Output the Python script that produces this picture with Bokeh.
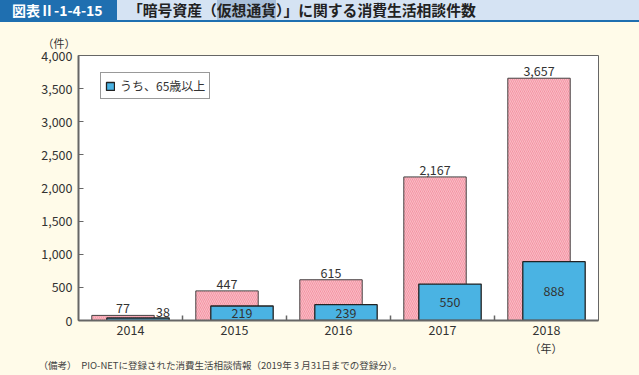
from bokeh.plotting import figure
from bokeh.models import (ColumnDataSource, Range1d, FixedTicker, NumeralTickFormatter,
                          Legend, LegendItem, Title, Div)
from bokeh.layouts import column
from bokeh.transform import dodge
from bokeh.embed import file_html
from bokeh.resources import INLINE
from bokeh.core.properties import value

# ---- data ----
years = ["2014", "2015", "2016", "2017", "2018"]
total = [77, 447, 615, 2167, 3657]
elderly = [38, 219, 239, 550, 888]
y_ticks = [0, 500, 1000, 1500, 2000, 2500, 3000, 3500, 4000]
series_name = "うち、65歳以上"
x_unit = "（年）"
y_unit = "（件）"
fig_code = "図表Ⅱ-1-4-15"
title_pre = "「暗号資産（"
title_mid = "仮想通貨"
title_post = "）」に関する消費生活相談件数"
note = "（備考）　PIO-NETに登録された消費生活相談情報（2019年 3 月31日までの登録分）。"

FONT = "Noto Sans CJK JP"
CREAM = "#fffbe9"
TXT = "#333333"

xs = [i + 0.5 for i in range(len(years))]
bounds = [i for i in range(1, len(years))]

src = ColumnDataSource(dict(
    x=xs, total=total, elderly=elderly,
    total_lbl=[f"{v:,}" for v in total],
))
inside = [i for i, v in enumerate(elderly) if v >= 150]
above = [i for i, v in enumerate(elderly) if v < 150]
src_in = ColumnDataSource(dict(
    x=[xs[i] for i in inside],
    y=[elderly[i] / 2 for i in inside],
    lbl=[f"{elderly[i]:,}" for i in inside]))
src_ab = ColumnDataSource(dict(
    x=[xs[i] for i in above],
    y=[elderly[i] for i in above],
    lbl=[f"{elderly[i]:,}" for i in above]))

p = figure(width=639, height=351, x_range=Range1d(0, len(years)), y_range=Range1d(0, 4000),
           output_backend="svg", toolbar_location=None,
           min_border_left=78, min_border_right=41, min_border_top=31, min_border_bottom=55,
           background_fill_color="white", border_fill_color=CREAM)
p.outline_line_color = "#666666"
p.outline_line_width = 1
p.xgrid.visible = False
p.ygrid.visible = False

pink = p.vbar(x=dodge("x", -0.072), top="total", width=0.6, source=src,
              fill_color="#f3889a", hatch_pattern="\\", hatch_color="#f9bcc5",
              hatch_scale=4, hatch_weight=1.2,
              line_color="#444444", line_width=1)
blue = p.vbar(x=dodge("x", 0.072), top="elderly", width=0.6, source=src,
              fill_color="#4ab3e3", line_color="#222222", line_width=1.3)

p.text(x=dodge("x", -0.072), y="total", text="total_lbl", source=src,
       text_align="center", text_baseline="bottom", y_offset=-2,
       text_font=value(FONT), text_font_size="12.5px", text_color=TXT)
p.text(x=dodge("x", 0.072), y="y", text="lbl", source=src_in,
       text_align="center", text_baseline="middle",
       text_font=value(FONT), text_font_size="12.5px", text_color=TXT)
p.text(x=dodge("x", 0.072), y="y", text="lbl", source=src_ab,
       text_align="center", text_baseline="bottom", x_offset=25, y_offset=-1,
       text_font=value(FONT), text_font_size="12.5px", text_color=TXT)

# axes
xa = p.xaxis[0]
xa.ticker = FixedTicker(ticks=xs, minor_ticks=bounds)
xa.major_label_overrides = {x: y for x, y in zip(xs, years)}
xa.major_tick_in = 0
xa.major_tick_out = 0
xa.minor_tick_in = 5
xa.minor_tick_out = 0
xa.minor_tick_line_color = "#666666"
xa.minor_tick_line_width = 1.5

ya = p.yaxis[0]
ya.ticker = FixedTicker(ticks=y_ticks)
ya.formatter = NumeralTickFormatter(format="0,0")
ya.major_tick_in = 5
ya.major_tick_out = 0
ya.minor_tick_in = 0
ya.minor_tick_out = 0
ya.major_tick_line_color = "#666666"

for ax in (xa, ya):
    ax.axis_line_color = "#666666"
    ax.axis_line_width = 2
    ax.major_label_text_font = FONT
    ax.major_label_text_font_size = "12.5px"
    ax.major_label_text_color = TXT
xa.major_label_standoff = 4
ya.major_label_standoff = 6

legend = Legend(items=[LegendItem(label=series_name, renderers=[blue])],
                location=(22, 221), orientation="vertical",
                glyph_width=10, glyph_height=10, label_height=14, padding=4, margin=0,
                label_standoff=5, spacing=0,
                label_text_font=FONT, label_text_font_size="12px", label_text_color=TXT,
                border_line_color="#333333", border_line_width=1,
                background_fill_color="white", background_fill_alpha=1)
p.add_layout(legend, "center")

# unit labels and note as titles in the side panels (not clipped)
p.add_layout(Title(text=y_unit, align="left", offset=-36, standoff=10,
                   text_font=FONT, text_font_size="11px", text_font_style="normal",
                   text_color=TXT), "above")
p.add_layout(Title(text=x_unit, align="left", offset=451, standoff=0,
                   text_font=FONT, text_font_size="11px", text_font_style="normal",
                   text_color=TXT), "below")
p.add_layout(Title(text=note, align="left", offset=-40, standoff=0,
                   text_font=FONT, text_font_size="9.5px", text_font_style="normal",
                   text_color="#444444"), "below")

title_html = f"""
<div style="width:639px;height:22px;background:#d5e3f3;border-bottom:2px solid #1f6fb0;
display:flex;align-items:center;font-family:'{FONT}';margin:0;padding:0;white-space:nowrap;">
<div style="background:#1f6fb0;color:#ffffff;height:22px;width:117px;display:flex;align-items:center;
font-weight:bold;font-size:14px;box-sizing:border-box;padding-left:12px;">{fig_code}</div>
<div style="margin-left:11px;color:#222222;font-weight:bold;font-size:14.8px;">{title_pre}<span style="background:#a9c0da;">{title_mid}</span>{title_post}</div>
</div>
"""
title = Div(text=title_html, width=639, height=24, styles={"margin": "0", "padding": "0"})

layout = column(title, p, spacing=0, styles={"background-color": CREAM})

open("out.html", "w").write(file_html(layout, INLINE))
